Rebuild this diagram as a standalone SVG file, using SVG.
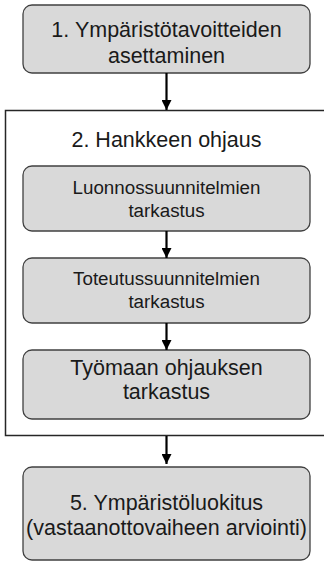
<svg xmlns="http://www.w3.org/2000/svg" width="324" height="562" viewBox="0 0 324 562">
<style>
.box{fill:#d9d9d9;stroke:#404040;stroke-width:1.3}
.frame{fill:none;stroke:#262626;stroke-width:1.5}
.t{font-family:"Liberation Sans",Arial,sans-serif;fill:#1a1a1a;text-anchor:middle}
.big{font-size:21.5px}
.mid{font-size:18.8px}
.conn{stroke:#000;stroke-width:2.2;fill:none}
</style>
<defs>
<marker id="ah" markerWidth="10" markerHeight="10" refX="10" refY="5" orient="auto" markerUnits="userSpaceOnUse" viewBox="0 0 10 10">
<path d="M0,0 L10,5 L0,10 Z" fill="#000"/>
</marker>
</defs>
<g id="n2">
<rect class="frame" x="5.5" y="110.5" width="330" height="325"/>
<text class="t big" x="166.5" y="147">2. Hankkeen ohjaus</text>
</g>
<g id="n1">
<rect class="box" x="23" y="5" width="287" height="68" rx="9"/>
<text class="t big" x="166.5" y="37">1. Ympäristötavoitteiden</text>
<text class="t big" x="166.5" y="63">asettaminen</text>
</g>
<g id="n2a">
<rect class="box" x="23" y="166" width="287" height="65" rx="9"/>
<text class="t mid" x="166.5" y="194">Luonnossuunnitelmien</text>
<text class="t mid" x="166.5" y="217">tarkastus</text>
</g>
<g id="n2b">
<rect class="box" x="23" y="258" width="287" height="65" rx="9"/>
<text class="t mid" x="166.5" y="285">Toteutussuunnitelmien</text>
<text class="t mid" x="166.5" y="308">tarkastus</text>
</g>
<g id="n2c">
<rect class="box" x="23" y="350" width="287" height="69" rx="9"/>
<text class="t big" x="166.5" y="375">Työmaan ohjauksen</text>
<text class="t big" x="166.5" y="399">tarkastus</text>
</g>
<g id="n5">
<rect class="box" x="23" y="467" width="287" height="93" rx="9"/>
<text class="t big" x="166.5" y="510">5. Ympäristöluokitus</text>
<text class="t big" x="166.5" y="535">(vastaanottovaiheen arviointi)</text>
</g>
<g id="connectors">
<line class="conn" x1="166.5" y1="73" x2="166.5" y2="110" marker-end="url(#ah)"/>
<line class="conn" x1="166.5" y1="231" x2="166.5" y2="258" marker-end="url(#ah)"/>
<line class="conn" x1="166.5" y1="323" x2="166.5" y2="350" marker-end="url(#ah)"/>
<line class="conn" x1="166.5" y1="436" x2="166.5" y2="464" marker-end="url(#ah)"/>
</g>
</svg>
